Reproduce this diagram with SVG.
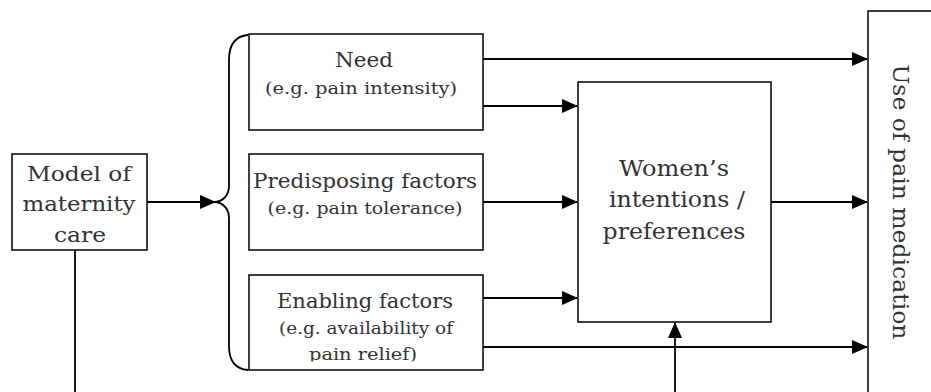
<svg xmlns="http://www.w3.org/2000/svg" width="931" height="392" viewBox="0 0 931 392">
<style>
.box{fill:#fff;stroke:#000;stroke-width:1.5}
.ln{fill:none;stroke:#000;stroke-width:1.8}
.t{font-family:"DejaVu Serif","Liberation Serif",serif;fill:#333;text-anchor:middle}
.big{font-size:21px}
.sm{font-size:16px}
.wb{font-size:23px}
.us{font-size:22px}
</style>
<defs>
<marker id="ah" markerWidth="16" markerHeight="14" refX="15" refY="7" orient="auto" markerUnits="userSpaceOnUse">
<path d="M0,0 L16,7 L0,14 Z" fill="#000"/>
</marker>
<clipPath id="enclip"><rect x="249" y="276" width="234" height="85.5"/></clipPath>
</defs>
<g id="connectors">
<path class="ln" d="M147,202 H215" marker-end="url(#ah)"/>
<path class="ln" d="M248,35 C236,36 229,44 229,60 V186 C229,196 222,202 214,202 C222,202 229,208 229,218 V346 C229,362 236,369 248,370"/>
<path class="ln" d="M483,59 H867" marker-end="url(#ah)"/>
<path class="ln" d="M483,106 H577" marker-end="url(#ah)"/>
<path class="ln" d="M483,202 H577" marker-end="url(#ah)"/>
<path class="ln" d="M483,298 H577" marker-end="url(#ah)"/>
<path class="ln" d="M483,347 H867" marker-end="url(#ah)"/>
<path class="ln" d="M771,202 H867" marker-end="url(#ah)"/>
<path class="ln" d="M675,392 V323" marker-end="url(#ah)"/>
<path class="ln" d="M75,250 V392"/>
</g>
<g id="model">
<rect class="box" x="12" y="154" width="135" height="96"/>
<text class="t big" x="79" y="181" textLength="104" lengthAdjust="spacingAndGlyphs">Model of</text>
<text class="t big" x="79" y="211" textLength="113" lengthAdjust="spacingAndGlyphs">maternity</text>
<text class="t big" x="80" y="242" textLength="52" lengthAdjust="spacingAndGlyphs">care</text>
</g>
<g id="need">
<rect class="box" x="249" y="34" width="234" height="96"/>
<text class="t big" x="364" y="67" textLength="58" lengthAdjust="spacingAndGlyphs">Need</text>
<text class="t sm" x="361" y="94" textLength="192" lengthAdjust="spacingAndGlyphs">(e.g. pain intensity)</text>
</g>
<g id="predisposing">
<rect class="box" x="249" y="154" width="234" height="96"/>
<text class="t big" x="365" y="188" textLength="224" lengthAdjust="spacingAndGlyphs">Predisposing factors</text>
<text class="t sm" x="365" y="214" textLength="195" lengthAdjust="spacingAndGlyphs">(e.g. pain tolerance)</text>
</g>
<g id="enabling">
<rect class="box" x="249" y="275" width="234" height="95"/>
<g clip-path="url(#enclip)">
<text class="t big" x="365" y="308" textLength="176" lengthAdjust="spacingAndGlyphs">Enabling factors</text>
<text class="t sm" x="366" y="334" textLength="174" lengthAdjust="spacingAndGlyphs">(e.g. availability of</text>
<text class="t sm" x="363" y="360" textLength="108" lengthAdjust="spacingAndGlyphs">pain relief)</text>
</g>
</g>
<g id="women">
<rect class="box" x="578" y="82" width="193" height="240"/>
<text class="t wb" x="674" y="176" textLength="110" lengthAdjust="spacingAndGlyphs">Women’s</text>
<text class="t wb" x="677" y="207" textLength="136" lengthAdjust="spacingAndGlyphs">intentions /</text>
<text class="t wb" x="674" y="239" textLength="143" lengthAdjust="spacingAndGlyphs">preferences</text>
</g>
<g id="use">
<rect class="box" x="868" y="11" width="70" height="390"/>
<text class="t us" transform="translate(893,202) rotate(90)" x="0" y="0" textLength="275" lengthAdjust="spacingAndGlyphs">Use of pain medication</text>
</g>
</svg>
